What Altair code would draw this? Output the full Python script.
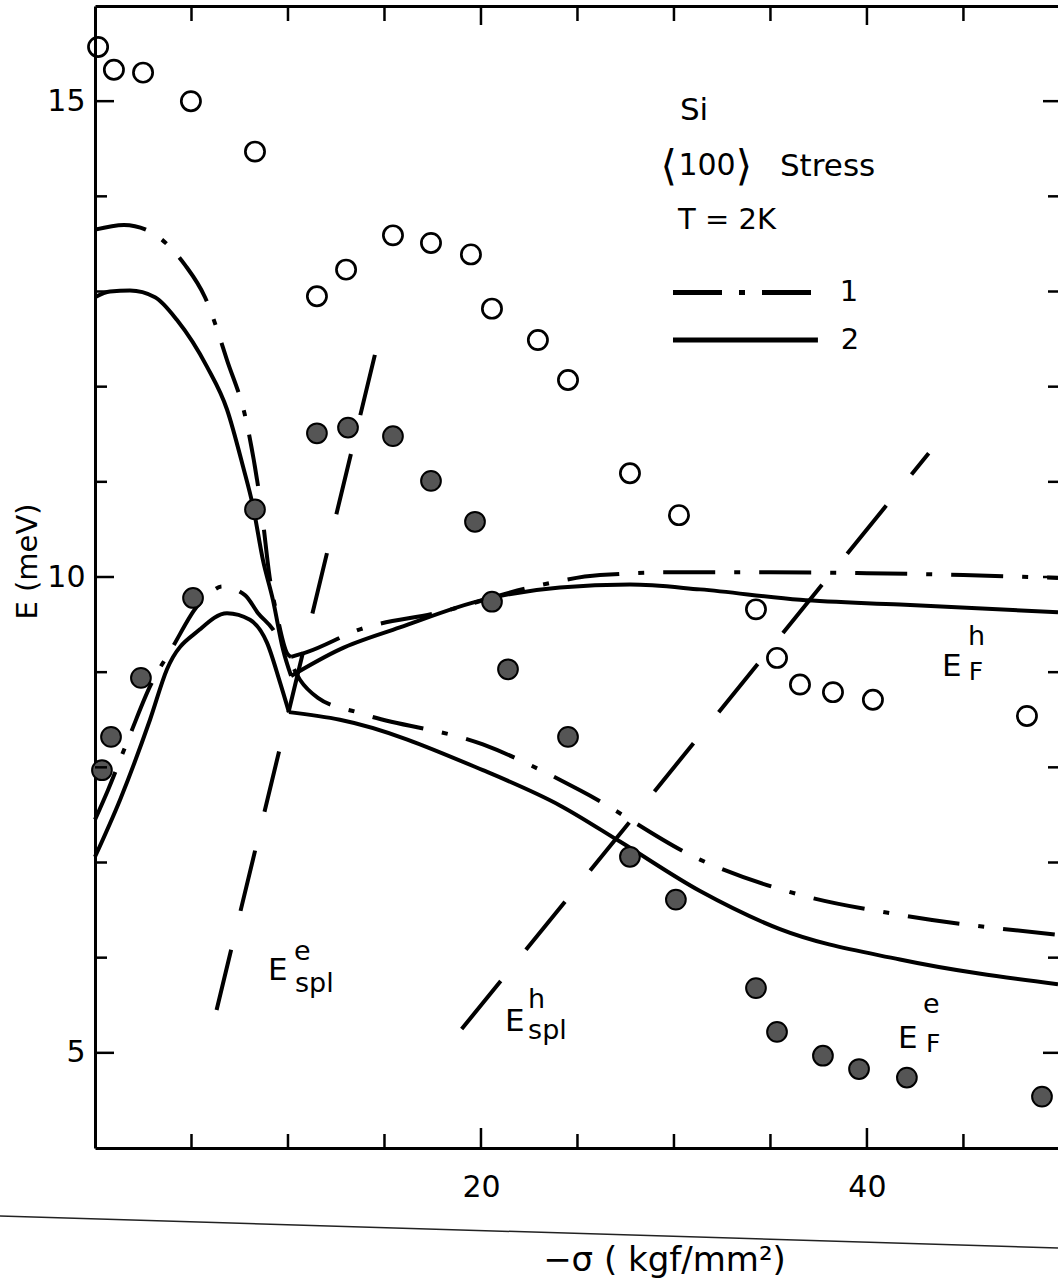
import altair as alt
import pandas as pd

FONT = "DejaVu Sans"
W, H = 963, 1142  # plot area in px

# ---------------- experimental Fermi energies ----------------
# open circles: holes, filled circles: electrons
hole_sigma = [0.16, 0.98, 2.49, 4.97, 8.29, 11.50, 13.01, 15.44, 17.41, 19.48, 20.57,
              22.95, 24.51, 27.72, 30.26, 34.25, 35.34, 36.53, 38.24, 40.31, 48.29]
hole_E = [15.57, 15.33, 15.30, 15.00, 14.47, 12.95, 13.23, 13.59, 13.51, 13.39, 12.82,
          12.49, 12.07, 11.09, 10.65, 9.66, 9.15, 8.87, 8.79, 8.71, 8.54]

elec_sigma = [0.36, 0.83, 2.38, 5.08, 8.29, 11.50, 13.11, 15.44, 17.41, 19.69, 20.57,
              21.40, 24.51, 27.72, 30.10, 34.25, 35.34, 37.72, 39.59, 42.07, 49.07]
elec_E = [7.97, 8.32, 8.94, 9.78, 10.71, 11.51, 11.57, 11.48, 11.01, 10.58, 9.74,
          9.03, 8.32, 7.06, 6.61, 5.68, 5.22, 4.97, 4.83, 4.74, 4.54]

# ---------------- calculated curves ----------------
# each branch is split at its kink near -sigma = 10
# model 1 (dash-dot)
c1_up_left_sigma = [0.0, 1.5, 2.64, 4.66, 5.70, 6.84, 7.88, 8.65, 9.07, 9.43, 9.95, 10.16]
c1_up_left_E = [13.65, 13.70, 13.65, 13.28, 12.94, 12.28, 11.60, 10.67, 9.97, 9.60, 9.20, 9.16]
c1_up_right_sigma = [10.16, 10.98, 13.73, 17.88, 22.54, 26.17, 30.31, 35.0, 40.0, 45.0, 49.9]
c1_up_right_E = [9.16, 9.21, 9.45, 9.63, 9.89, 10.02, 10.05, 10.05, 10.04, 10.02, 9.99]
c1_lo_sigma = [0.0, 0.67, 1.81, 2.85, 4.04, 5.28, 5.96, 6.58, 7.77, 8.45, 9.22, 9.95,
               10.62, 11.55, 13.73, 20.10, 25.13, 31.35, 36.53, 41.71, 49.9]
c1_lo_E = [7.45, 7.76, 8.34, 8.85, 9.27, 9.69, 9.83, 9.90, 9.81, 9.62, 9.45, 9.18,
           8.92, 8.73, 8.57, 8.24, 7.76, 7.03, 6.66, 6.45, 6.24]

# model 2 (solid)
c2_up_left_sigma = [0.0, 0.78, 1.81, 3.11, 4.25, 5.80, 6.84, 7.67, 8.19, 8.70, 9.22, 9.74, 10.16]
c2_up_left_E = [12.94, 13.00, 13.01, 12.94, 12.70, 12.21, 11.76, 11.16, 10.74, 10.18, 9.76, 9.24, 8.96]
c2_up_right_sigma = [10.16, 12.69, 15.80, 20.10, 24.09, 27.72, 31.35, 36.53, 41.71, 49.9]
c2_up_right_E = [8.96, 9.24, 9.47, 9.76, 9.89, 9.92, 9.87, 9.76, 9.71, 9.63]
c2_lo_left_sigma = [0.0, 1.30, 2.85, 3.73, 5.44, 6.84, 8.03, 8.91, 9.59, 10.05]
c2_lo_left_E = [7.06, 7.66, 8.50, 9.03, 9.45, 9.62, 9.55, 9.31, 8.89, 8.58]
c2_lo_right_sigma = [10.05, 12.69, 20.10, 24.09, 27.20, 31.35, 35.49, 41.71, 49.9]
c2_lo_right_E = [8.58, 8.50, 7.97, 7.60, 7.22, 6.70, 6.30, 5.98, 5.72]

# splitting energies (dashed)
spl_e_sigma = [6.3, 14.7]
spl_e_E = [5.45, 12.5]
spl_h_sigma = [19.0, 43.2]
spl_h_E = [5.25, 11.3]

# axis ticks
x_major = [20, 40]
x_minor = [5, 10, 15, 25, 30, 35, 45]
y_major = [5, 10, 15]
y_minor = [6, 7, 8, 9, 11, 12, 13, 14]

XS = alt.Scale(domain=[0, 49.9], nice=False, zero=False)
YS = alt.Scale(domain=[4, 16], nice=False, zero=False)


def df_xy(xs, ys):
    return pd.DataFrame({"sigma": xs, "E": ys, "i": list(range(len(xs)))})


def xy(xaxis=None, yaxis=None):
    return dict(
        x=alt.X("sigma:Q", scale=XS, axis=xaxis),
        y=alt.Y("E:Q", scale=YS, axis=yaxis),
    )


def curve(xs, ys, dash=None, width=4, smooth=True):
    props = dict(color="black", strokeWidth=width, strokeCap="butt", strokeJoin="round")
    if smooth:
        props["interpolate"] = "monotone"
    if dash:
        props["strokeDash"] = dash
    return alt.Chart(df_xy(xs, ys)).mark_line(**props).encode(
        order="i:Q", **xy())


DASHDOT = [52, 19, 6, 19]
DASHED = [62, 40]

layers = [
    curve(c1_up_left_sigma, c1_up_left_E, DASHDOT),
    curve(c1_up_right_sigma, c1_up_right_E, DASHDOT),
    curve(c1_lo_sigma, c1_lo_E, DASHDOT),
    curve(c2_up_left_sigma, c2_up_left_E),
    curve(c2_up_right_sigma, c2_up_right_E),
    curve(c2_lo_left_sigma, c2_lo_left_E),
    curve(c2_lo_right_sigma, c2_lo_right_E),
    curve(spl_e_sigma, spl_e_E, DASHED, smooth=False),
    curve(spl_h_sigma, spl_h_E, DASHED, smooth=False),
]

# open circles carry the bottom and left axes
bottom_axis = alt.Axis(
    orient="bottom", values=x_major, ticks=False, grid=False,
    domain=True, domainWidth=3, domainColor="black",
    labelFont=FONT, labelFontSize=30, labelColor="black", labelPadding=24,
    title="−σ ( kgf/mm²)", titleFont=FONT, titleFontSize=34,
    titleFontWeight="normal", titleColor="black",
    titleX=569, titleY=122, titleAlign="center", titleBaseline="alphabetic",
)
left_axis = alt.Axis(
    orient="left", values=y_major, ticks=False, grid=False,
    domain=True, domainWidth=3, domainColor="black",
    labelFont=FONT, labelFontSize=30, labelColor="black", labelPadding=10,
    title="E (meV)", titleFont=FONT, titleFontSize=29,
    titleFontWeight="normal", titleColor="black",
    titleAngle=270, titleX=-68, titleY=555, titleAlign="center",
    titleBaseline="middle",
)
top_axis = alt.Axis(
    orient="top", labels=False, ticks=False, grid=False, title=None,
    domain=True, domainWidth=3, domainColor="black",
)

holes = alt.Chart(df_xy(hole_sigma, hole_E)).mark_point(
    shape="circle", filled=False, size=370, strokeWidth=2.7, color="black", opacity=1
).encode(**xy(bottom_axis, left_axis))

elec = alt.Chart(df_xy(elec_sigma, elec_E)).mark_point(
    shape="circle", filled=True, size=390, fill="#555555", stroke="black",
    strokeWidth=2, opacity=1
).encode(**xy(top_axis, None))

layers += [holes, elec]


# inward tick marks
def xticks(vals, at_top, length):
    y0 = 0 if at_top else H
    y1 = length if at_top else H - length
    return alt.Chart(pd.DataFrame({"sigma": vals})).mark_rule(
        color="black", strokeWidth=2.5).encode(
        x=alt.X("sigma:Q", scale=XS, axis=None),
        y=alt.value(y0), y2=alt.value(y1))


def yticks(vals, at_right, length):
    x0 = W if at_right else 0
    x1 = W - length if at_right else length
    return alt.Chart(pd.DataFrame({"E": vals})).mark_rule(
        color="black", strokeWidth=2.5).encode(
        y=alt.Y("E:Q", scale=YS, axis=None),
        x=alt.value(x0), x2=alt.value(x1))


layers += [
    xticks(x_major, False, 20), xticks(x_minor, False, 14),
    xticks(x_major, True, 19), xticks(x_minor, True, 15),
    yticks(y_major, False, 19), yticks(y_minor, False, 12),
    yticks(y_major, True, 15), yticks(y_minor, True, 10),
]

# key for the two calculations
key_sigma = [29.95]
key_sigma2 = [37.46]
key_E = [12.99, 12.49]
for E, dash in zip(key_E, [[49, 17, 6, 17], None]):
    props = dict(color="black", strokeWidth=5, strokeCap="butt")
    if dash:
        props["strokeDash"] = dash
    layers.append(
        alt.Chart(pd.DataFrame({"sigma": key_sigma, "sigma2": key_sigma2, "E": [E]}))
        .mark_rule(**props)
        .encode(x=alt.X("sigma:Q", scale=XS, axis=None), x2="sigma2:Q",
                y=alt.Y("E:Q", scale=YS, axis=None))
    )

# text annotations: (text, sigma, E, size, align, baseline)
notes = [
    ("Si", 30.31, 14.80, 31, "left", "alphabetic"),
    ("⟨", 29.30, 14.31, 42, "left", "middle"),
    ("100", 29.38 + 0.85, 14.22, 30, "left", "alphabetic"),
    ("⟩", 33.20, 14.31, 42, "left", "middle"),
    ("Stress", 35.49, 14.21, 31, "left", "alphabetic"),
    ("T = 2K", 30.21, 13.66, 29, "left", "alphabetic"),
    ("1", 39.07, 12.99, 29, "center", "middle"),
    ("2", 39.12, 12.49, 29, "center", "middle"),
    ("E", 8.96, 5.77, 31, "left", "alphabetic"),
    ("e", 10.31, 5.98, 27, "left", "alphabetic"),
    ("spl", 10.36, 5.64, 27, "left", "alphabetic"),
    ("E", 21.24, 5.23, 31, "left", "alphabetic"),
    ("h", 22.44, 5.47, 27, "left", "alphabetic"),
    ("spl", 22.44, 5.15, 27, "left", "alphabetic"),
    ("E", 43.89, 8.96, 31, "left", "alphabetic"),
    ("h", 45.23, 9.29, 27, "left", "alphabetic"),
    ("F", 45.28, 8.92, 25, "left", "alphabetic"),
    ("E", 41.61, 5.05, 31, "left", "alphabetic"),
    ("e", 42.90, 5.42, 27, "left", "alphabetic"),
    ("F", 43.06, 5.01, 25, "left", "alphabetic"),
]
for text, s, E, size, align, base in notes:
    layers.append(
        alt.Chart(pd.DataFrame({"sigma": [s], "E": [E], "t": [text]}))
        .mark_text(font=FONT, fontSize=size, align=align, baseline=base, color="black")
        .encode(text="t:N", **xy())
    )

# faint slanted edge line running under the axis labels
layers.append(
    alt.Chart(pd.DataFrame({"k": [0]})).mark_rule(color="#222", strokeWidth=1.5)
    .encode(x=alt.value(-95), x2=alt.value(W), y=alt.value(1210), y2=alt.value(1242))
)

chart = (
    alt.layer(*layers)
    .resolve_axis(x="independent", y="independent")
    .properties(
        width=W, height=H,
        autosize=alt.AutoSizeParams(type="none"),
        padding={"left": 95, "top": 6, "right": 0, "bottom": 136},
        background="white",
    )
    .configure_view(stroke=None)
)

chart.save("out.html", embed_options={"renderer": "svg", "actions": False})
